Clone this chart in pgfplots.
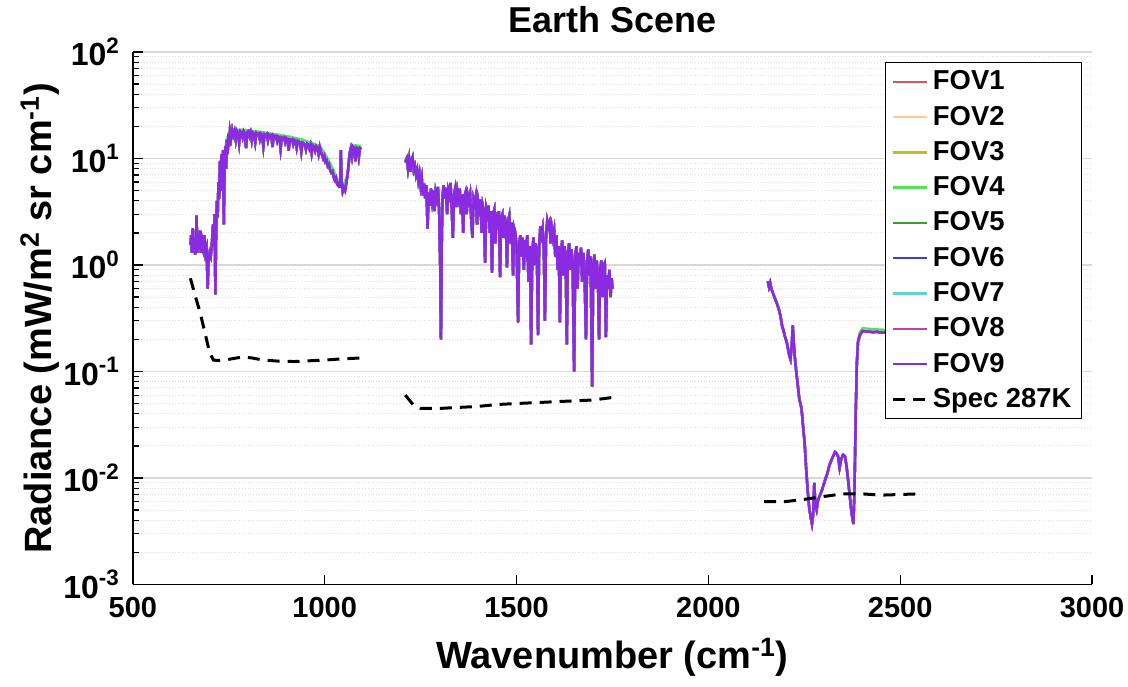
\documentclass[border=0pt]{standalone}
\usepackage{fontspec}
\setmainfont{Liberation Sans}
\usepackage{pgfplots}
\usepackage{pgfplotstable}
\pgfplotsset{compat=1.18}

\definecolor{fovA}{RGB}{225,80,80}
\definecolor{fovB}{RGB}{255,200,150}
\definecolor{fovC}{RGB}{190,190,30}
\definecolor{fovD}{RGB}{80,230,80}
\definecolor{fovE}{RGB}{50,160,50}
\definecolor{fovF}{RGB}{60,60,230}
\definecolor{fovG}{RGB}{100,210,210}
\definecolor{fovH}{RGB}{190,60,190}
\definecolor{fovI}{RGB}{138,43,226}

% FOV spectra (all FOVs nearly identical), bands separated by nan rows
\pgfplotstableread{
x y
650 1.55
652 1.9
654 1.3
656 2.2
658 1.4
660 1.8
662 1.25
664 1.6
666 2.9
668 1.3
670 1.9
672 1.4
675 2.1
677 1.3
680 1.7
683 1.45
686 1.9
689 1.3
692 1.45
695 0.6
697 1.1
700 1.3
703 1.2
706 1.6
709 2.4
711 1.5
713 3.0
715 0.53
717 2.0
719 4.0
721 2.8
723 6.0
725 4.2
727 9.5
729 5.0
731 11
733 6.5
735 12
737 2.4
739 9
741 13
743 8
745 15
747 11
749 17
751 13
753 18
756 15.5
759 18.5
762 16.5
765 18
768 15
771 18.2
774 17.5
777 14
780 18
783 17.6
786 15.8
789 18
792 17.2
795 12.5
798 17.6
801 18
804 16.2
807 17.5
810 14.8
813 17.4
816 17
819 14.2
822 17.3
825 16.8
828 17.1
831 15.2
834 17
837 16.4
840 13
843 16.8
846 16.4
849 16.9
852 14.8
855 16.6
858 16.1
861 16.5
864 12.8
867 16.3
870 15.9
873 16.2
876 14.6
879 16
882 15.7
885 12.3
888 15.7
891 15.5
894 15.8
897 14.2
900 15.5
903 15.2
906 11.8
909 15.1
912 14.9
915 15.1
918 13.6
921 14.9
924 14.7
927 12.6
930 14.6
933 14.4
936 14.1
939 11.6
942 14.1
945 13.9
948 13.6
951 12.2
954 13.8
957 13.5
960 12.4
963 13.4
966 11.2
969 13.2
972 12.9
975 11.8
978 13.0
981 12.5
984 11.0
987 12.8
990 11.5
993 10.8
996 10.0
999 10.6
1002 9.3
1005 9.6
1008 8.5
1011 8.8
1014 7.8
1017 7.4
1020 7.6
1023 6.8
1026 6.3
1029 6.6
1032 5.8
1035 5.6
1038 5.9
1040 5.3
1042 12
1044 6.2
1047 4.9
1050 5.3
1053 5.0
1056 5.8
1059 6.8
1062 8.5
1065 11.2
1068 12.4
1071 10.5
1074 12.8
1077 12.3
1080 9.4
1083 12.6
1086 12.4
1089 10.3
1092 12.5
1095 12.3
1100 nan
1210 9.2
1214 10.0
1217 8.0
1220 9.8
1223 7.5
1226 9.5
1229 10.2
1232 7.8
1235 8.5
1238 7.0
1241 7.8
1244 6.2
1247 7.2
1250 5.5
1253 6.5
1256 4.5
1259 5.8
1262 4.2
1265 5.6
1268 2.2
1271 4.8
1274 3.6
1277 5.2
1280 4.0
1283 5.0
1286 3.2
1289 4.8
1292 4.2
1295 5.4
1298 3.5
1301 1.0
1303 0.2
1305 1.5
1307 4.4
1310 5.6
1313 4.2
1316 5.3
1319 3.0
1322 5.0
1325 4.5
1328 5.9
1331 3.4
1334 1.8
1337 4.6
1340 5.2
1343 3.5
1346 4.9
1349 4.2
1352 5.2
1355 3.0
1358 4.6
1361 2.0
1364 4.4
1367 4.8
1370 3.0
1373 4.5
1376 4.0
1379 4.6
1382 2.6
1385 1.8
1388 4.2
1391 3.8
1394 4.4
1397 2.4
1400 4.0
1403 3.4
1406 4.1
1409 2.0
1412 3.6
1415 3.2
1418 1.05
1421 3.4
1424 3.0
1427 3.6
1430 2.0
1433 3.2
1436 0.85
1439 3.0
1442 3.3
1445 1.6
1448 3.1
1451 2.6
1454 3.2
1457 0.77
1460 2.8
1463 3.0
1466 1.8
1469 2.9
1472 2.4
1475 0.95
1478 2.6
1481 2.9
1484 1.6
1487 2.5
1491 0.8
1494 2.2
1497 2.0
1500 1.5
1504 0.29
1507 1.6
1510 1.9
1513 1.2
1516 1.8
1519 0.9
1522 1.7
1525 1.4
1528 1.9
1531 0.7
1535 1.5
1538 0.18
1541 1.3
1544 1.8
1547 1.0
1550 1.6
1553 1.3
1556 0.22
1559 1.5
1562 2.3
1565 1.9
1568 2.2
1571 1.4
1574 0.30
1577 1.9
1580 2.6
1583 2.3
1586 2.5
1589 1.6
1592 2.2
1595 1.8
1598 2.1
1601 1.2
1604 1.9
1607 0.9
1610 1.5
1613 0.29
1616 1.3
1619 1.7
1622 0.8
1625 1.5
1628 1.2
1631 0.18
1634 1.3
1637 1.6
1640 0.9
1643 1.4
1646 1.1
1650 0.10
1653 1.2
1656 1.5
1659 0.6
1662 1.3
1665 1.0
1668 1.45
1671 0.7
1674 1.3
1677 0.9
1681 0.20
1684 1.1
1687 1.4
1690 0.8
1693 1.2
1697 0.072
1700 1.0
1703 1.25
1706 0.6
1709 1.1
1712 0.8
1715 0.20
1718 0.9
1721 1.1
1724 0.5
1727 1.0
1730 1.05
1733 0.21
1736 0.8
1739 0.6
1742 0.9
1745 0.5
1748 0.75
1750 0.6
1800 nan
2155 0.70
2158 0.62
2161 0.68
2164 0.60
2168 0.55
2172 0.50
2176 0.46
2180 0.42
2184 0.38
2188 0.33
2192 0.27
2196 0.24
2200 0.21
2204 0.19
2208 0.16
2211 0.14
2214 0.13
2217 0.17
2220 0.27
2222 0.20
2225 0.14
2229 0.10
2233 0.075
2237 0.055
2240 0.050
2243 0.044
2247 0.030
2251 0.021
2255 0.012
2259 0.0075
2263 0.0052
2267 0.0042
2270 0.0037
2273 0.0045
2276 0.0090
2279 0.0055
2282 0.0050
2286 0.0062
2290 0.0068
2295 0.0075
2300 0.0085
2305 0.0098
2310 0.011
2315 0.013
2320 0.0145
2325 0.016
2330 0.0175
2334 0.017
2338 0.016
2342 0.0125
2346 0.015
2351 0.0165
2356 0.016
2360 0.013
2365 0.009
2370 0.006
2374 0.0045
2378 0.0037
2381 0.008
2384 0.04
2387 0.12
2390 0.19
2395 0.22
2402 0.24
2410 0.238
2420 0.236
2430 0.234
2440 0.236
2450 0.231
2460 0.233
2470 0.229
2480 0.227
2490 0.229
2500 0.225
2510 0.227
2520 0.224
2530 0.226
2540 0.223
2550 0.224
}\fovdata

% FOV4 runs slightly high on the plateaus
\pgfplotstableread{
x y
740 12.5
750 17.5
760 18.8
790 18.6
820 18.0
850 17.4
880 16.7
910 16.0
940 15.1
970 13.9
990 12.8
1005 10.4
1020 8.2
1035 6.2
1047 5.3
1060 7.2
1068 13.0
1080 13.3
1095 13.1
1100 nan
1210 9.6
1214 10.4
1220 10.2
1226 9.9
1229 10.6
1232 8.2
1100 nan
2390 0.20
2395 0.235
2402 0.255
2430 0.250
2460 0.246
2500 0.242
2550 0.240
}\fovfour

% spec noise at 287 K
\pgfplotstableread{
x y
650 0.75
662 0.52
675 0.36
688 0.23
700 0.15
710 0.128
720 0.127
740 0.128
760 0.132
787 0.137
810 0.134
840 0.128
880 0.125
920 0.124
960 0.126
1000 0.128
1040 0.131
1095 0.134
1100 nan
1210 0.060
1230 0.049
1250 0.045
1300 0.045
1350 0.046
1400 0.047
1450 0.049
1500 0.050
1550 0.051
1600 0.052
1650 0.053
1700 0.054
1750 0.057
1800 nan
2145 0.0060
2200 0.0060
2250 0.0063
2300 0.0067
2350 0.0071
2400 0.0071
2450 0.0069
2500 0.0070
2550 0.0071
}\specdata

\begin{document}
\begin{tikzpicture}
\begin{axis}[
    scale only axis,
    width=480pt, height=266.5pt,
    xmin=500, xmax=3000,
    ymode=log, ymin=1e-3, ymax=1e2,
    xtick={500,1000,1500,2000,2500,3000},
    xticklabels={500,1000,1500,2000,2500,3000},
    ytick={1e-3,1e-2,1e-1,1,10,100},
    yticklabels={10\textsuperscript{-3},10\textsuperscript{-2},10\textsuperscript{-1},10\textsuperscript{0},10\textsuperscript{1},10\textsuperscript{2}},
    axis lines=left,
    axis line style={-, black, line width=0.7pt},
    tick style={black, line width=0.6pt},
    tick align=inside,
    major tick length=5pt, minor tick length=3pt,
    ymajorgrids, yminorgrids,
    major grid style={draw=black!15, line width=0.6pt},
    minor grid style={draw=black!13, densely dotted, line width=0.5pt},
    unbounded coords=jump,
    xticklabel style={font=\fontsize{14.5}{16}\selectfont\bfseries, yshift=-3pt},
    yticklabel style={font=\fontsize{16}{18}\selectfont\bfseries, xshift=-3pt},
    xlabel={Wavenumber (cm\textsuperscript{-1})},
    ylabel={Radiance (mW/m\textsuperscript{2} sr cm\textsuperscript{-1})},
    label style={font=\fontsize{19}{21}\selectfont\bfseries},
    xlabel style={yshift=-3pt},
    ylabel style={at={(axis description cs:-0.097,0.5)}, anchor=center},
    title={Earth Scene},
    title style={font=\fontsize{18}{20}\selectfont\bfseries},
    legend cell align=left,
    legend style={at={(0.9896,0.981)}, anchor=north east, draw=black,
        fill=white, font=\fontsize{13.7}{15}\selectfont\bfseries,
        row sep=2.6pt, line width=0.6pt},
    every axis plot/.append style={line width=1.2pt},
]
\coordinate (ll) at (rel axis cs:0,0);
\coordinate (ur) at (rel axis cs:1,1);
\addplot[fovA] table[x=x,y=y] {\fovdata};
\addplot[fovB] table[x=x,y=y] {\fovdata};
\addplot[fovC] table[x=x,y=y] {\fovdata};
\addplot[fovD] table[x=x,y=y] {\fovfour};
\addplot[fovE] table[x=x,y=y] {\fovdata};
\addplot[fovF] table[x=x,y=y] {\fovdata};
\addplot[fovG] table[x=x,y=y] {\fovdata};
\addplot[fovH] table[x=x,y=y] {\fovdata};
\addplot[fovI] table[x=x,y=y] {\fovdata};
\addplot[black, line width=1.5pt, dash pattern=on 6pt off 4pt] table[x=x,y=y] {\specdata};
\legend{FOV1,FOV2,FOV3,FOV4,FOV5,FOV6,FOV7,FOV8,FOV9,Spec 287K}
\end{axis}
\pgfresetboundingbox
\path ([shift={(-66.5pt,-51pt)}]ll) rectangle ([shift={(18pt,26pt)}]ur);
\end{tikzpicture}
\end{document}
